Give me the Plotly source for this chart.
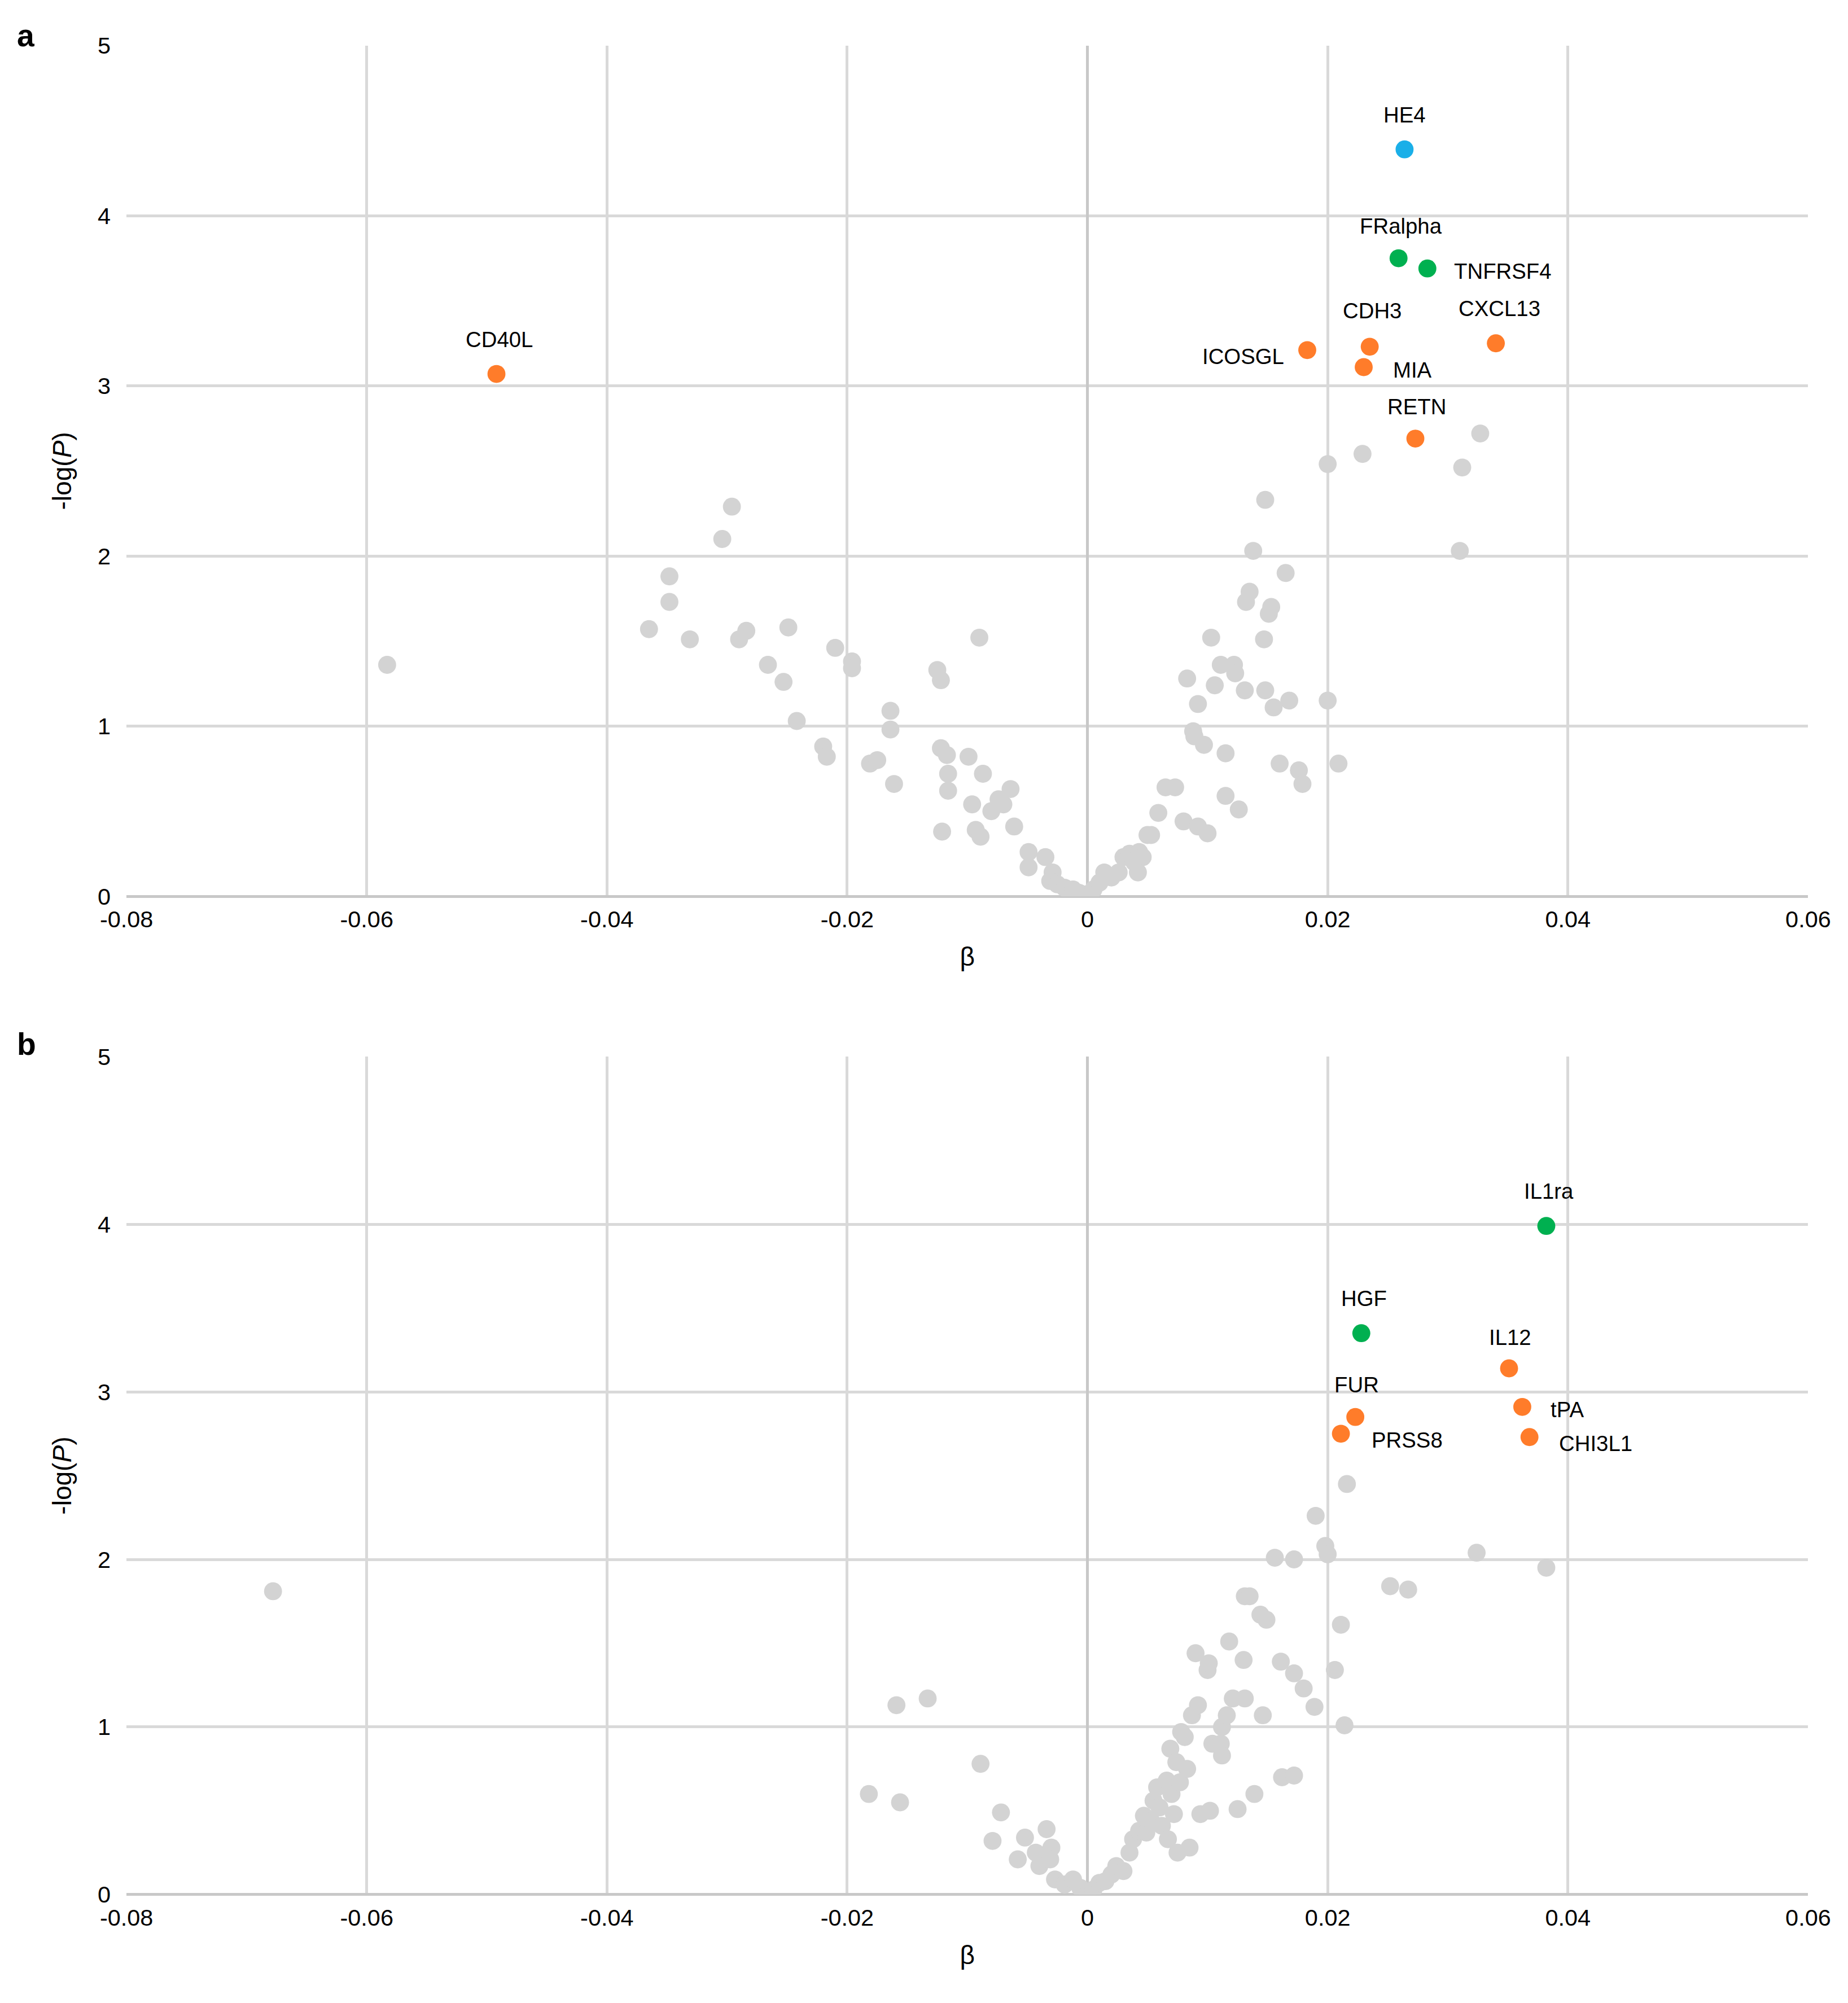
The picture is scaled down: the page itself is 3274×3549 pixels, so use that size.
import plotly.graph_objs as go

S = 2.2736  # picture scale
F = 1.35 * S  # font scale

# panel a: background proteins (beta, -log P)
a_beta = [-0.0583, -0.0296, -0.0304, -0.0348, -0.0348, -0.0365, -0.0331, -0.0284, -0.0290,
          -0.0249, -0.0266, -0.0253, -0.0242, -0.0210, -0.0196, -0.0196, -0.0220, -0.0217,
          -0.0164, -0.0164, -0.0125, -0.0122, -0.0181, -0.0175, -0.0161, -0.0122, -0.0117,
          -0.0121, -0.0116, -0.0116, -0.0090, -0.0099, -0.0087, -0.0096, -0.0093, -0.0089,
          -0.0080, -0.0074, -0.0070, -0.0064, -0.0061, -0.0049, -0.0049, -0.0035,
          -0.0029, -0.0031, -0.0025, -0.0019, -0.0012, -0.0007, -0.0002, 0.0005, 0.0010,
          0.0014, 0.0020, 0.0026, 0.0030, 0.0035, 0.0039, 0.0043, 0.0046, 0.0042, 0.0050,
          0.0065, 0.0073, 0.0059, 0.0053, 0.0080, 0.0092, 0.0100, 0.0083, 0.0088, 0.0089,
          0.0092, 0.0097, 0.0103, 0.0106, 0.0111, 0.0115, 0.0115, 0.0122, 0.0123, 0.0126,
          0.0131, 0.0132, 0.0135, 0.0138, 0.0148, 0.0147, 0.0148, 0.0151, 0.0153, 0.0155,
          0.0160, 0.0165, 0.0168, 0.0176, 0.0179, 0.0200, 0.0200, 0.0209, 0.0229, 0.0310,
          0.0312, 0.0327]
a_logp = [1.36, 2.29, 2.10, 1.88, 1.73, 1.57, 1.51, 1.56, 1.51,
          1.58, 1.36, 1.26, 1.03, 1.46, 1.38, 1.34, 0.88, 0.82,
          1.09, 0.98, 1.33, 1.27, 0.78, 0.80, 0.66, 0.87, 0.83,
          0.38, 0.72, 0.62, 1.52, 0.82, 0.72, 0.54, 0.39, 0.35,
          0.50, 0.57, 0.54, 0.63, 0.41, 0.26, 0.17, 0.23,
          0.14, 0.09, 0.07, 0.05, 0.04, 0.02, 0.01, 0.04, 0.08,
          0.14, 0.11, 0.14, 0.23, 0.25, 0.20, 0.26, 0.23, 0.14, 0.36,
          0.64, 0.64, 0.49, 0.36, 0.44, 0.41, 0.37, 1.28, 0.97, 0.94,
          1.13, 0.89, 1.52, 1.24, 1.36, 0.84, 0.59, 1.36, 1.31, 0.51,
          1.21, 1.73, 1.79, 2.03, 2.33, 1.51, 1.21, 1.66, 1.70, 1.11,
          0.78, 1.90, 1.15, 0.74, 0.66, 2.54, 1.15, 0.78, 2.60, 2.03,
          2.52, 2.72]

# panel a: labelled proteins
a_names = ["CD40L", "HE4", "FRalpha", "TNFRSF4", "CDH3", "ICOSGL", "MIA", "CXCL13", "RETN"]
a_hbeta = [-0.0492, 0.0264, 0.0259, 0.0283, 0.0235, 0.0183, 0.0230, 0.0340, 0.0273]
a_hlogp = [3.07, 4.39, 3.75, 3.69, 3.23, 3.21, 3.11, 3.25, 2.69]
a_hgroup = ["o", "b", "g", "g", "o", "o", "o", "o", "o"]

# panel b: background proteins
b_beta = [-0.0678, -0.0182, -0.0156, -0.0159, -0.0133, -0.0089, -0.0072, -0.0079, -0.0058,
          -0.0052, -0.0043, -0.0040, -0.0034, -0.0030, -0.0031, -0.0027, -0.0019, -0.0012,
          -0.0006, 0.0000, 0.0005, 0.0010, 0.0015, 0.0020, 0.0024, 0.0030, 0.0035, 0.0038,
          0.0043, 0.0047, 0.0049, 0.0053, 0.0055, 0.0058, 0.0060, 0.0062, 0.0066, 0.0067,
          0.0069, 0.0070, 0.0072, 0.0074, 0.0075, 0.0077, 0.0078, 0.0081, 0.0083, 0.0085,
          0.0087, 0.0090, 0.0092, 0.0094, 0.0100, 0.0101, 0.0102, 0.0104, 0.0111, 0.0112,
          0.0112, 0.0116, 0.0118, 0.0121, 0.0125, 0.0130, 0.0131, 0.0135, 0.0131, 0.0139,
          0.0144, 0.0146, 0.0149, 0.0156, 0.0161, 0.0162, 0.0172, 0.0172, 0.0172, 0.0180,
          0.0190, 0.0189, 0.0198, 0.0200, 0.0206, 0.0216, 0.0211, 0.0214, 0.0252, 0.0267,
          0.0324, 0.0382]
b_logp = [1.81, 0.60, 0.55, 1.13, 1.17, 0.78, 0.49, 0.32, 0.21,
          0.34, 0.25, 0.17, 0.39, 0.28, 0.21, 0.09, 0.06, 0.09,
          0.04, 0.00, 0.03, 0.07, 0.08, 0.12, 0.17, 0.14, 0.25, 0.33,
          0.38, 0.47, 0.37, 0.44, 0.56, 0.64, 0.52, 0.41, 0.68, 0.33,
          0.87, 0.60, 0.48, 0.79, 0.25, 0.67, 0.97, 0.94, 0.75, 0.28,
          1.07, 1.44, 1.13, 0.48, 1.34, 1.38, 0.50, 0.90, 0.90, 0.83,
          1.00, 1.07, 1.51, 1.17, 0.51, 1.40, 1.78, 1.78, 1.17, 0.60,
          1.67, 1.07, 1.64, 2.01, 1.39, 0.70, 2.00, 1.32, 0.71, 1.23,
          2.26, 1.12, 2.08, 2.03, 1.34, 2.45, 1.61, 1.01, 1.84, 1.82,
          2.04, 1.95]

# panel b: labelled proteins
b_names = ["IL1ra", "HGF", "IL12", "tPA", "CHI3L1", "FUR", "PRSS8"]
b_hbeta = [0.0382, 0.0228, 0.0351, 0.0362, 0.0368, 0.0223, 0.0211]
b_hlogp = [3.99, 3.35, 3.14, 2.91, 2.73, 2.85, 2.75]
b_hgroup = ["g", "g", "o", "o", "o", "o", "o"]

x_ticks = [-0.08, -0.06, -0.04, -0.02, 0, 0.02, 0.04, 0.06]
x_ticktext = ["-0.08", "-0.06", "-0.04", "-0.02", "0", "0.02", "0.04", "0.06"]

COLORS = {"o": "#FF7C2A", "g": "#00B050", "b": "#1AAFE8"}
GREY = "#D3D3D3"
FONT = "Liberation Sans, Arial, sans-serif"

# label placement in display px: (dx, dy, xanchor)
LABEL_POS = {
    "CD40L": (2, -27, "center"), "HE4": (0, -27, "center"), "FRalpha": (2, -25, "center"),
    "TNFRSF4": (20, 2, "left"), "CDH3": (2, -28, "center"), "ICOSGL": (-17, 5, "right"),
    "MIA": (22, 2, "left"), "CXCL13": (3, -27, "center"), "RETN": (1, -25, "center"),
    "IL1ra": (2, -27, "center"), "HGF": (2, -27, "center"), "IL12": (1, -24, "center"),
    "tPA": (21, 2, "left"), "CHI3L1": (22, 5, "left"), "FUR": (1, -25, "center"),
    "PRSS8": (23, 5, "left"),
}


def add_panel(fig, row, beta, logp, names, hbeta, hlogp, hgroup):
    xa = "x" if row == 1 else "x2"
    ya = "y" if row == 1 else "y2"
    fig.add_trace(go.Scatter(
        x=beta, y=logp, mode="markers", xaxis=xa, yaxis=ya,
        marker=dict(size=14 * S, color=GREY), hoverinfo="skip",
    ))
    fig.add_trace(go.Scatter(
        x=hbeta, y=hlogp, mode="markers", xaxis=xa, yaxis=ya,
        marker=dict(size=14 * S, color=[COLORS[g] for g in hgroup]),
        text=names, hoverinfo="text",
    ))
    for n, bx, by in zip(names, hbeta, hlogp):
        dx, dy, anc = LABEL_POS[n]
        fig.add_annotation(
            x=bx, y=by, xref=xa, yref=ya, text=n, showarrow=False,
            xanchor=anc, yanchor="middle", xshift=dx * S, yshift=-dy * S,
            font=dict(family=FONT, size=12.5 * F, color="#000000"),
        )


fig = go.Figure()
add_panel(fig, 1, a_beta, a_logp, a_names, a_hbeta, a_hlogp, a_hgroup)
add_panel(fig, 2, b_beta, b_logp, b_names, b_hbeta, b_hlogp, b_hgroup)

xaxis_style = dict(
    range=[-0.08, 0.06], tickvals=x_ticks, ticktext=x_ticktext, automargin=False,
    showgrid=True, gridcolor="#D9D9D9", gridwidth=2 * S,
    zeroline=True, zerolinecolor="#C8C8C8", zerolinewidth=2 * S,
    showline=False, ticks="", ticklabelstandoff=int(6 * S),
    tickfont=dict(family=FONT, size=13.5 * F, color="#000"),
    title=dict(text="β", font=dict(family=FONT, size=15 * F, color="#000"), standoff=12 * S),
)
yaxis_style = dict(
    range=[0, 5], tickvals=[0, 1, 2, 3, 4, 5], automargin=False,
    showgrid=True, gridcolor="#D9D9D9", gridwidth=2 * S,
    zeroline=True, zerolinecolor="#C8C8C8", zerolinewidth=2 * S,
    showline=False, ticks="", ticklabelstandoff=int(12 * S),
    tickfont=dict(family=FONT, size=13.5 * F, color="#000"),
    title=dict(text="-log(<i>P</i>)", font=dict(family=FONT, size=15 * F, color="#000"),
               standoff=14 * S),
)

fig.update_layout(
    width=3274, height=3549, showlegend=False,
    plot_bgcolor="white", paper_bgcolor="white",
    margin=dict(l=0, r=0, t=0, b=0),
    xaxis=dict(xaxis_style, domain=[0.066, 0.976], anchor="y"),
    yaxis=dict(yaxis_style, domain=[0.5548, 0.9795], anchor="x"),
    xaxis2=dict(xaxis_style, domain=[0.066, 0.976], anchor="y2"),
    yaxis2=dict(yaxis_style, domain=[0.0564, 0.4747], anchor="x2"),
)

for letter, ypos in [("a", 1 - 24 / 1561), ("b", 1 - 810 / 1561)]:
    fig.add_annotation(
        x=0.006, y=ypos, xref="paper", yref="paper", text="<b>%s</b>" % letter,
        showarrow=False, xanchor="left", yanchor="middle",
        font=dict(family=FONT, size=18 * F, color="#000"),
    )

fig.write_html("out.html")
